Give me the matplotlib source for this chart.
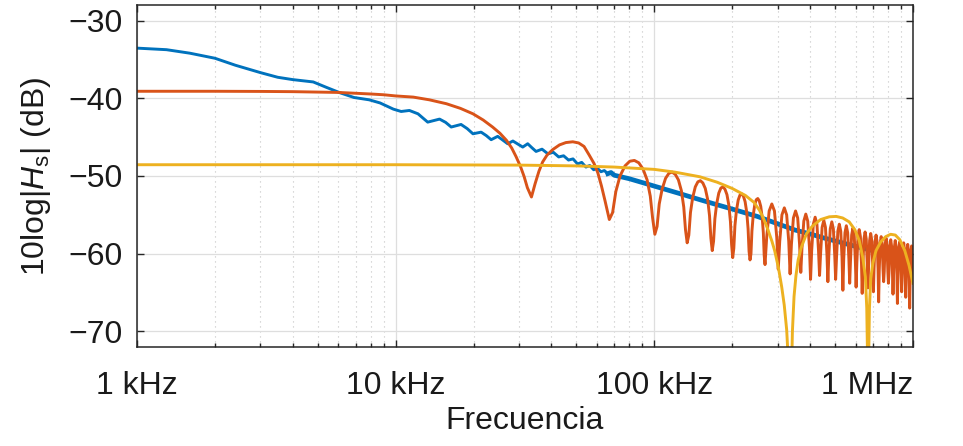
import numpy as np
import matplotlib
matplotlib.use('Agg')
import matplotlib.pyplot as plt
from matplotlib.ticker import LogLocator, NullFormatter

plt.rcParams['font.family'] = ['Liberation Sans', 'DejaVu Sans']
plt.rcParams['mathtext.fontset'] = 'custom'
plt.rcParams['mathtext.rm'] = 'Liberation Sans'
plt.rcParams['mathtext.it'] = 'Liberation Sans:italic'

# frequencies in kHz, levels in dB
blue_f = [1.0, 1.3, 1.6, 2.0, 2.4, 3.0, 3.5, 4.0, 4.8, 5.4, 6.1, 6.9, 7.9, 8.7, 9.8,
          10.5, 11.3, 12.2, 13.3, 14.78, 15.6, 16.4, 17.9, 18.9, 19.9, 21.4, 22.4, 23.4,
          24.8, 26.0, 27.1, 28.4, 29.7, 31.0, 32.4, 33.6, 34.9, 36.8, 38.8, 40.7, 42.7,
          44.6, 46.6, 48.5, 50.5, 52.4, 54.4, 56.3, 58.3, 60.2, 62.2, 64.1, 66.1, 68.0,
          70.0, 80, 90, 100, 125, 150, 175, 200, 250, 300, 350, 400, 450, 500, 600, 700,
          800, 900, 1000]
blue_db = [-33.55, -33.75, -34.2, -34.85, -35.75, -36.7, -37.3, -37.6, -37.9, -38.6, -39.3,
           -39.9, -40.2, -40.6, -41.4, -41.7, -41.57, -42.0, -43.07, -42.68, -43.1, -43.7,
           -43.37, -43.9, -44.57, -44.36, -44.8, -45.33, -44.9, -45.4, -45.85, -45.5, -45.9,
           -46.28, -45.85, -46.35, -46.84, -46.55, -47.15, -46.95, -47.55, -47.4, -47.95,
           -47.8, -48.45, -48.25, -48.85, -48.65, -49.2, -49.0, -49.45, -49.3, -49.7, -49.55,
           -49.9, -50.35, -50.85, -51.3, -52.25, -53.05, -53.7, -54.25, -55.2, -56.15,
           -56.95, -57.45, -57.95, -58.35, -59.05, -59.6, -60.05, -60.4, -60.7]

orange_f = [1, 2, 3, 4, 5, 6, 7, 8, 9, 10, 11.7, 13.5, 15.7, 17.8, 19.9, 21.8, 23.7, 25.3,
            26.8, 28.1, 29.2, 30.4, 31.4, 32.3, 33.5,
            34.6, 35.8, 37.0, 38.5, 40.5, 43, 45.5, 48.4, 51, 53.5, 56, 58.5, 60.5, 62.5, 64.5, 67,
            69.0, 71.0, 73.7, 77.05, 80.4, 83.75, 87.1, 90.45, 93.8, 96.5, 98.5, 100.5,
            102.5, 104.5, 107.2, 110.55, 113.9, 117.25, 120.6, 123.95, 127.3, 130.0, 132.0, 134,
            136.0, 138.0, 140.7, 144.05, 147.4, 150.75, 154.1, 157.45, 160.8, 163.5, 165.5, 167.5,
            169.5, 171.5, 174.2, 177.55, 180.9, 184.25, 187.6, 190.95, 194.3, 197.0, 199.0, 201,
            203.0, 205.0, 207.7, 211.05, 214.4, 217.75, 221.1, 224.45, 227.8, 230.5, 232.5, 234.5,
            236.5, 238.5, 241.2, 244.55, 247.9, 251.25, 254.6, 257.95, 261.3, 264.0, 266.0, 268,
            272.0, 278.05, 284.75, 291.45, 297.5, 301.5,
            305.5, 311.55, 318.25, 324.95, 331.0, 335,
            339.0, 345.05, 351.75, 358.45, 364.5, 368.5,
            372.5, 378.55, 385.25, 391.95, 398.0, 402,
            406.0, 412.05, 418.75, 425.45, 431.5, 435.5,
            439.5, 445.55, 452.25, 458.95, 465.0, 469,
            473.0, 479.05, 485.75, 492.45, 498.5, 502.5,
            506.5, 512.55, 519.25, 525.95, 532.0, 536,
            540.0, 546.05, 552.75, 559.45, 565.5, 569.5,
            573.5, 579.55, 586.25, 592.95, 599.0, 603,
            607.0, 613.05, 619.75, 626.45, 632.5, 636.5,
            640.5, 646.55, 653.25, 659.95, 666.0, 670,
            674.0, 680.05, 686.75, 693.45, 699.5, 703.5,
            707.5, 713.55, 720.25, 726.95, 733.0, 737,
            741.0, 747.05, 753.75, 760.45, 766.5, 770.5,
            774.5, 780.55, 787.25, 793.95, 800.0, 804,
            808.0, 814.05, 820.75, 827.45, 833.5, 837.5,
            841.5, 847.55, 854.25, 860.95, 867.0, 871,
            875.0, 881.05, 887.75, 894.45, 900.5, 904.5,
            908.5, 914.55, 921.25, 927.95, 934.0, 938,
            942.0, 948.05, 954.75, 961.45, 967.5, 971.5,
            975.5, 981.55, 988.25, 994.95, 1001.0]
orange_db = [-39.1, -39.1, -39.12, -39.15, -39.2, -39.25, -39.35, -39.45, -39.55, -39.7, -39.85,
             -40.2, -40.7, -41.3, -42.0, -42.8, -43.7, -44.5, -45.4, -46.4, -47.5, -48.8, -50.1,
             -51.5, -52.7,
             -51.0, -49.4, -48.2, -47.3, -46.6, -46.0, -45.7, -45.6, -45.75, -46.2, -47.3, -48.4,
             -49.6, -51.3, -53.2, -55.6,
             -54.7, -52.0, -50.0, -48.7, -48.1, -48.0, -48.3, -49.1, -50.5, -52.6, -55.4, -57.5,
             -56.5, -53.6, -51.7, -50.3, -49.65, -49.5, -49.8, -50.5, -51.9, -54.0, -56.9, -58.6,
             -57.6, -54.7, -52.8, -51.4, -50.75, -50.6, -50.9, -51.6, -53.0, -55.1, -58.0, -59.6,
             -58.4, -55.5, -53.6, -52.2, -51.55, -51.4, -51.7, -52.4, -53.8, -55.9, -58.8, -60.5,
             -59.3, -56.4, -54.5, -53.1, -52.45, -52.3, -52.6, -53.3, -54.7, -56.8, -59.7, -60.8,
             -60.0, -57.1, -55.1, -53.7, -53.05, -52.9, -53.2, -53.9, -55.3, -57.3, -60.2, -61.4,
             -57.9, -54.5, -53.6, -54.5, -57.9, -62.0,
             -58.4, -55.0, -54.1, -55.0, -58.4, -62.6,
             -58.8, -55.4, -54.5, -55.4, -58.8, -62.4,
             -59.2, -55.8, -54.9, -55.8, -59.2, -63.3,
             -59.6, -56.2, -55.3, -56.2, -59.6, -62.8,
             -60.0, -56.6, -55.7, -56.6, -60.0, -63.6,
             -60.2, -56.8, -55.9, -56.8, -60.2, -63.3,
             -60.5, -57.1, -56.2, -57.1, -60.5, -64.7,
             -60.7, -57.3, -56.4, -57.3, -60.7, -63.8,
             -61.0, -57.6, -56.7, -57.6, -61.0, -64.3,
             -61.2, -57.8, -56.9, -57.8, -61.2, -65.1,
             -61.5, -58.1, -57.2, -58.1, -61.5, -64.4,
             -61.7, -58.3, -57.4, -58.3, -61.7, -64.9,
             -61.9, -58.5, -57.6, -58.5, -61.9, -66.2,
             -62.1, -58.7, -57.8, -58.7, -62.1, -63.6,
             -62.3, -58.9, -58.0, -58.9, -62.3, -63.8,
             -62.5, -59.1, -58.2, -59.1, -62.5, -65.2,
             -62.6, -59.2, -58.3, -59.2, -62.6, -66.4,
             -62.8, -59.4, -58.5, -59.4, -62.8, -64.9,
             -62.9, -59.5, -58.6, -59.5, -62.9, -65.6,
             -63.1, -59.7, -58.8, -59.7, -63.1, -67.0,
             -63.3, -59.9, -59.0, -59.9, -63.3]

yellow_f = [1, 10, 30, 50, 70, 100, 120, 150, 175, 200, 225, 243, 255, 264, 275, 285, 292, 302,
            311, 318, 325, 330, 333.5, 335.5, 338, 342, 347, 353, 360, 370, 388, 410, 440, 475,
            505, 535, 567, 596, 620, 640, 655, 663, 668, 671, 674, 679, 687, 700, 720, 750,
            785, 820, 855, 890, 930, 966, 1000]
yellow_db = [-48.55, -48.55, -48.6, -48.7, -48.85, -49.15, -49.5, -50.1, -50.8, -51.6, -52.5,
             -53.4, -54.4, -55.4, -56.9, -58.4, -59.6, -61.8, -64.3, -66.6, -69.8, -74, -80,
             -95, -78, -70, -65.5, -62.8, -60.8, -59.2, -57.4, -56.4, -55.6, -55.25, -55.2,
             -55.4, -55.9, -56.9, -58.3, -60.5, -63.0, -67, -74, -95, -74, -67, -63.2, -61.2,
             -59.6, -58.5, -57.8, -57.5, -57.6, -58.2, -59.6, -61.5, -63.8]

tick_pos = [1, 10, 100, 1000]
tick_labels = ['1 kHz', '10 kHz', '100 kHz', '1 MHz']

fig = plt.figure(figsize=(9.63, 4.46), dpi=100)
ax = fig.add_axes([0.1423, 0.222, 0.8057, 0.7668])

split = blue_f.index(66.1)
ax.plot(blue_f[:split + 1], blue_db[:split + 1], color='#0072BD', linewidth=2.1,
        solid_joinstyle='round')
ax.plot(blue_f[split:], blue_db[split:], color='#0072BD', linewidth=3.4)
ax.plot(orange_f, orange_db, color='#D95319', linewidth=2.1)
ax.plot(yellow_f, yellow_db, color='#EDB120', linewidth=2.1)

ax.set_xscale('log')
ax.set_xlim(1, 1000)
ax.set_ylim(-72, -28)
ax.set_yticks([-70, -60, -50, -40, -30])
ax.set_yticklabels(['\u221270', '\u221260', '\u221250', '\u221240', '\u221230'])
ax.set_xticks(tick_pos)
ax.set_xticklabels(tick_labels)
ax.xaxis.set_minor_locator(LogLocator(base=10, subs=np.arange(2, 10)))
ax.xaxis.set_minor_formatter(NullFormatter())
ax.get_xticklabels()[-1].set_horizontalalignment('right')

ax.grid(True, which='major', color='#DEDEDE', linewidth=0.9)
ax.grid(True, which='minor', axis='x', color='#C4C4C4', linewidth=0.8, linestyle=(0, (1, 3.5)))
ax.set_axisbelow(True)

for s in ax.spines.values():
    s.set_color('#262626')
    s.set_linewidth(1.1)
ax.tick_params(which='both', direction='in', top=True, right=True, colors='#262626',
               labelsize=23, width=1.0)
ax.tick_params(which='major', length=5)
ax.tick_params(which='minor', length=3)
ax.tick_params(axis='x', pad=17)
ax.tick_params(axis='y', pad=10)
for lab in ax.get_xticklabels() + ax.get_yticklabels():
    lab.set_color('#1a1a1a')

ax.set_xlabel('Frecuencia', fontsize=23, color='#1a1a1a', labelpad=4)
ax.set_ylabel(r'10log|$H_\mathrm{s}$| (dB)', fontsize=23, color='#1a1a1a', labelpad=11)

fig.savefig('out.png', dpi=100)
